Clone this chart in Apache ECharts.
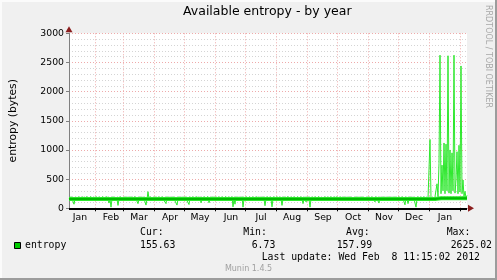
<!DOCTYPE html>
<html><head><meta charset="utf-8">
<script src="https://cdn.jsdelivr.net/npm/echarts@6/dist/echarts.min.js"></script>
<style>html,body{margin:0;padding:0;background:#f0f0f0}#c{width:497px;height:280px}</style>
</head><body><div id="c"></div>
<script>
// ---- data ----
const startDay = [2011, 0, 6];
const endDay = [2012, 1, 8];
const monthNames = ['Jan','Feb','Mar','Apr','May','Jun','Jul','Aug','Sep','Oct','Nov','Dec'];
const yTickValues = [0, 500, 1000, 1500, 2000, 2500, 3000];

const jan11 = [160,165,200,160,158,70,160,195,162,160,200,158,160,165,198,160,160,162,200,160,158,165,200,160,160,195];
const feb11 = [160,200,162,160,198,160,165,160,200,160,158,162,200,160,90,160,20,160,200,162,160,195,160,50,160,200,158,160];
const mar11 = [130,160,200,160,162,198,160,160,200,158,160,165,200,160,160,80,160,200,162,160,198,160,160,55,160,285,160,200,160,162,160];
const apr11 = [160,200,160,162,158,198,160,160,200,160,165,160,80,200,160,160,198,162,160,200,160,158,160,55,160,200,160,162,198,160];
const may11 = [160,200,160,162,160,65,198,160,160,200,158,160,162,200,160,160,198,95,160,160,200,162,160,158,200,95,160,165,200,160,160];
const jun11 = [200,160,162,160,198,160,160,200,158,160,165,200,160,160,198,162,160,200,25,160,70,200,160,162,198,160,160,200,20,160];
const jul11 = [160,200,160,162,160,198,160,160,200,158,160,162,200,160,160,198,162,160,200,160,45,160,200,162,160,198,160,25,160,200,160];
const aug11 = [162,200,160,160,198,160,50,160,200,162,160,158,200,160,160,198,165,160,200,160,162,160,198,160,160,200,160,80,162,198,110];
const sep11 = [160,200,160,20,160,198,162,160,200,160,158,160,200,165,160,198,160,162,200,160,160,198,158,160,200,162,160,160,198,160];
const oct11 = [200,160,162,160,198,160,165,200,160,160,198,162,160,200,165,170,198,160,165,200,160,162,198,170,160,200,165,160,198,162,160];
const nov11 = [200,160,165,160,198,162,160,110,200,160,162,90,198,160,165,200,160,160,198,162,160,200,158,160,198,165,160,200,160,162];
const dec11 = [160,198,160,162,200,160,160,60,198,160,80,162,200,160,165,198,160,160,20,160,200,162,160,198,160,160,200,165,160,198,160];
const jan12 = [160,1180,160,165,170,160,200,190,420,200,770,2625,250,740,300,1120,250,1100,300,2615,260,1000,250,950,300,2625,260,485,970,250,1080];
const feb12 = [280,2440,250,485,200,290,180,220];

// average line as [dayIndex, value]
const avgPoints = [[0,158],[366,158],[372,172],[398,172]];

const statLabels = ['Cur:', 'Min:', 'Avg:', 'Max:'];
const statValues = ['155.63', '6.73', '157.99', '2625.02'];
const seriesName = 'entropy';
const lastUpdate = 'Last update: Wed Feb  8 11:15:02 2012';
const titleText = 'Available entropy - by year';
const yName = 'entropy (bytes)';
const footer = 'Munin 1.4.5';
const watermark = 'RRDTOOL / TOBI OETIKER';

// ---- build ----
const categories = [];
for (let t = Date.UTC(...startDay); t <= Date.UTC(...endDay); t += 86400000) {
  categories.push(new Date(t).toISOString().slice(0, 10));
}
const entropy = [].concat(jan11, feb11, mar11, apr11, may11, jun11, jul11, aug11, sep11, oct11, nov11, dec11, jan12, feb12);

const LIGHT = '#2ee82e', DARK = '#00bb00', ARROW = '#8b1e1e';
const MONO = '"DejaVu Sans Mono", monospace';
const SANS = '"DejaVu Sans", sans-serif';

const chart = echarts.init(document.getElementById('c'), null, {renderer: 'canvas'});

const statX = [140, 243.3, 346, 446.7];
const valX = [140, 251.7, 336.7, 450.7];
const graphics = [
  {type:'rect', shape:{x:0,y:0,width:497,height:2}, style:{fill:'#fbfbfb'}, silent:true},
  {type:'rect', shape:{x:0,y:0,width:2,height:280}, style:{fill:'#fbfbfb'}, silent:true},
  {type:'rect', shape:{x:495,y:0,width:2,height:280}, style:{fill:'#9c9c9c'}, silent:true},
  {type:'rect', shape:{x:0,y:278,width:497,height:2}, style:{fill:'#9c9c9c'}, silent:true},
  {type:'text', x:488.5, y:5, rotation:-Math.PI/2, style:{text:watermark, font:'8px '+SANS, fill:'#a8a8a8', align:'left', verticalAlign:'middle'}, silent:true},
  {type:'rect', shape:{x:14.5,y:242.5,width:6,height:6}, style:{fill:'#00cc00', stroke:'#000', lineWidth:1}, silent:true},
  {type:'text', x:25, y:245.5, style:{text:seriesName, font:'9.8px '+MONO, fill:'#000', align:'left', verticalAlign:'middle'}, silent:true},
  {type:'text', x:261.7, y:257.5, style:{text:lastUpdate, font:'9.8px '+MONO, fill:'#000', align:'left', verticalAlign:'middle'}, silent:true},
  {type:'text', x:248.5, y:268.5, style:{text:footer, font:'8px '+SANS, fill:'#a0a0a0', align:'center', verticalAlign:'middle'}, silent:true}
];
statLabels.forEach((s, i) => graphics.push({type:'text', x:statX[i], y:232.5, style:{text:s, font:'9.8px '+MONO, fill:'#000', align:'left', verticalAlign:'middle'}, silent:true}));
statValues.forEach((s, i) => graphics.push({type:'text', x:valX[i], y:245.5, style:{text:s, font:'9.8px '+MONO, fill:'#000', align:'left', verticalAlign:'middle'}, silent:true}));

const isFirst = (i, v) => v.slice(8, 10) === '01';
const isMid = (i, v) => v.slice(8, 10) === '17';

chart.setOption({
  animation: false,
  backgroundColor: '#f0f0f0',
  title: {text: titleText, left: 183, top: 5, padding: 0,
    textStyle: {fontSize: 12.5, fontWeight: 'normal', color: '#000', fontFamily: SANS}},
  grid: {left: 67, right: 30, top: 33.3, bottom: 71.7, show: true, backgroundColor: '#ffffff', borderWidth: 0},
  xAxis: [{
    type: 'category', data: categories, boundaryGap: false, z: 1,
    axisLine: {show: false},
    axisTick: {show: true, interval: isFirst, length: 3, lineStyle: {color: '#000'}},
    axisLabel: {interval: isMid, formatter: v => monthNames[+v.slice(5, 7) - 1], fontSize: 9.3, color: '#000', fontFamily: SANS, margin: 5},
    splitLine: {show: true, interval: isFirst, lineStyle: {color: '#eeaaaa', type: [1, 2], width: 1}}
  }, {
    type: 'value', min: 0, max: 1, position: 'bottom', z: 0,
    axisLine: {show: true, symbol: ['none', 'triangle'], symbolSize: [7, 6], symbolOffset: [0, 4], lineStyle: {color: ARROW, width: 1}},
    axisTick: {show: false}, axisLabel: {show: false}, splitLine: {show: false}
  }],
  yAxis: [{
    type: 'value', min: 0, max: 3000, interval: 500, position: 'left', z: 1,
    name: yName, nameLocation: 'middle', nameGap: 50,
    nameTextStyle: {fontSize: 10.8, fontFamily: SANS, color: '#000'},
    axisLine: {show: true, lineStyle: {color: '#808080', width: 1}},
    axisTick: {show: true, length: 3, lineStyle: {color: '#808080'}},
    axisLabel: {fontSize: 9.3, color: '#000', fontFamily: SANS, margin: 5,
      formatter: v => String(v)},
    splitLine: {show: true, lineStyle: {color: '#eeaaaa', type: [1, 2], width: 1}},
    minorTick: {show: false, splitNumber: 5},
    minorSplitLine: {show: true, lineStyle: {color: '#d4d4d4', type: [1, 2], width: 1}}
  }, {
    type: 'value', min: 0, max: 3000, position: 'left', z: 0,
    axisLine: {show: true, symbol: ['none', 'triangle'], symbolSize: [7, 6], symbolOffset: [0, 4], lineStyle: {color: ARROW, width: 1}},
    axisTick: {show: false}, axisLabel: {show: false}, splitLine: {show: false}
  }],
  series: [{
    type: 'line', name: 'band', data: avgPoints, xAxisIndex: 0, yAxisIndex: 0,
    showSymbol: false, silent: true, lineStyle: {color: LIGHT, width: 4}, z: 2
  }, {
    type: 'line', name: seriesName, data: entropy, xAxisIndex: 0, yAxisIndex: 0,
    showSymbol: false, silent: true, lineStyle: {color: LIGHT, width: 1}, z: 3
  }, {
    type: 'line', name: 'avg', data: avgPoints, xAxisIndex: 0, yAxisIndex: 0,
    showSymbol: false, silent: true, lineStyle: {color: DARK, width: 2}, z: 4,
    markLine: {silent: true, symbol: ['none', 'none'], label: {show: false},
      lineStyle: {color: '#000', width: 2, type: 'solid'}, data: [{yAxis: 0}]}
  }],
  graphic: graphics
});
</script></body></html>
